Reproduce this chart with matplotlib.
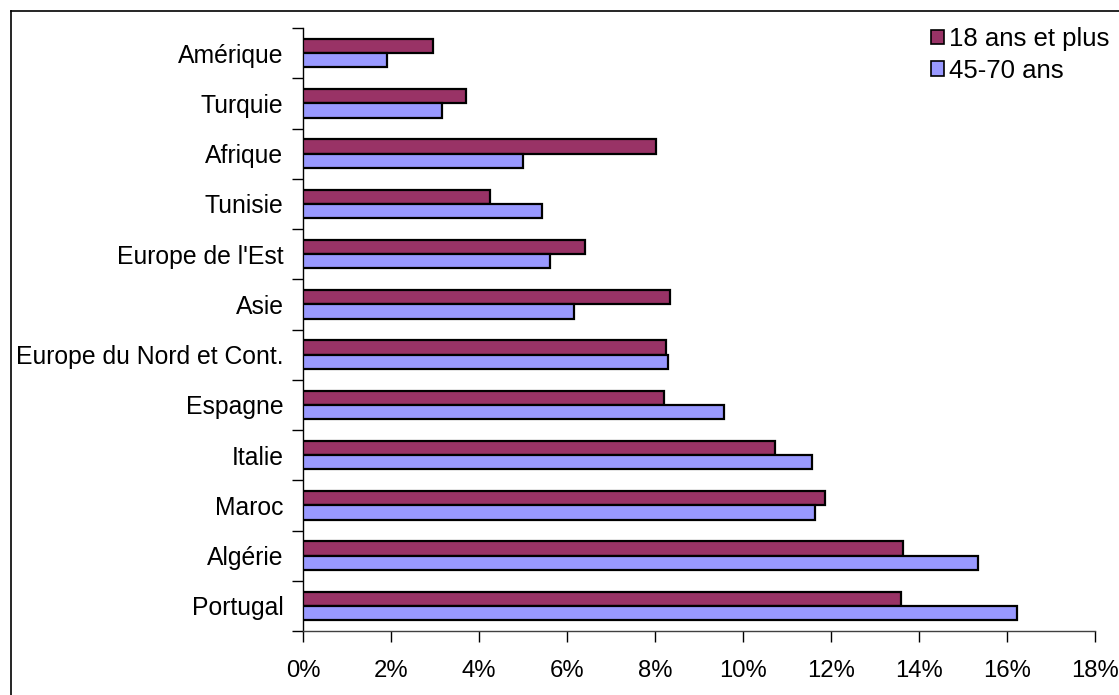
import matplotlib
matplotlib.use("Agg")
import matplotlib.pyplot as plt
import numpy as np
from matplotlib.lines import Line2D
from matplotlib.ticker import FuncFormatter, FixedLocator

plt.rcParams['font.family'] = ['Liberation Sans', 'DejaVu Sans']

categories = ["Amérique", "Turquie", "Afrique", "Tunisie", "Europe de l'Est", "Asie",
              "Europe du Nord et Cont.", "Espagne", "Italie", "Maroc", "Algérie", "Portugal"]
adults_18plus = [2.95, 3.70, 8.02, 4.24, 6.42, 8.34, 8.26, 8.21, 10.72, 11.86, 13.63, 13.60]
ages_45_70 = [1.92, 3.17, 5.01, 5.44, 5.61, 6.17, 8.29, 9.56, 11.57, 11.64, 15.33, 16.23]
series_labels = ["18 ans et plus", "45-70 ans"]
xticks = [0, 2, 4, 6, 8, 10, 12, 14, 16, 18]

W, H = 1119, 695
fig = plt.figure(figsize=(W / 100, H / 100), dpi=100)
ax = fig.add_axes([303 / W, 1 - 631 / H, (1095 - 303) / W, (631 - 28) / H])

y = np.arange(len(categories))
bh = 0.285
ax.barh(y - bh / 2, adults_18plus, height=bh, color="#993366", edgecolor="black",
        linewidth=1.6, label=series_labels[0], zorder=3)
ax.barh(y + bh / 2, ages_45_70, height=bh, color="#9999FF", edgecolor="black",
        linewidth=1.6, label=series_labels[1], zorder=3)

ax.set_ylim(len(categories) - 0.5, -0.5)
ax.set_xlim(0, 18)
ax.set_xticks(xticks)
ax.xaxis.set_major_formatter(FuncFormatter(lambda v, p: f"{int(v)}%"))

ax.set_yticks(y)
ax.set_yticklabels(categories)
ax.yaxis.set_minor_locator(FixedLocator(np.arange(-0.5, len(categories), 1.0)))
ax.tick_params(axis="y", which="major", length=0, pad=14, labelsize=17.8)
ax.tick_params(axis="y", which="minor", length=8, width=1, color="black", direction="out")
ax.tick_params(axis="x", which="major", length=8, width=1, color="black",
               direction="out", pad=13, labelsize=17.2)

for s in ["top", "right"]:
    ax.spines[s].set_visible(False)
ax.spines["left"].set_color("black")
ax.spines["bottom"].set_color("#404040")
ax.spines["left"].set_linewidth(1)
ax.spines["bottom"].set_linewidth(1)

leg = fig.legend(loc="upper left", bbox_to_anchor=(931 / W, 1 - 27 / H), frameon=False,
                 fontsize=18.5, handlelength=0.5, handleheight=0.5, handletextpad=0.2,
                 labelspacing=0.3, borderpad=0, borderaxespad=0)
for h in leg.legend_handles:
    h.set_linewidth(1.2)

fig.add_artist(Line2D([11 / W, 1], [1 - 11 / H, 1 - 11 / H], color="black", lw=1.2))
fig.add_artist(Line2D([11 / W, 11 / W], [0, 1 - 11 / H], color="black", lw=1.2))

fig.savefig("out.png", dpi=100)
